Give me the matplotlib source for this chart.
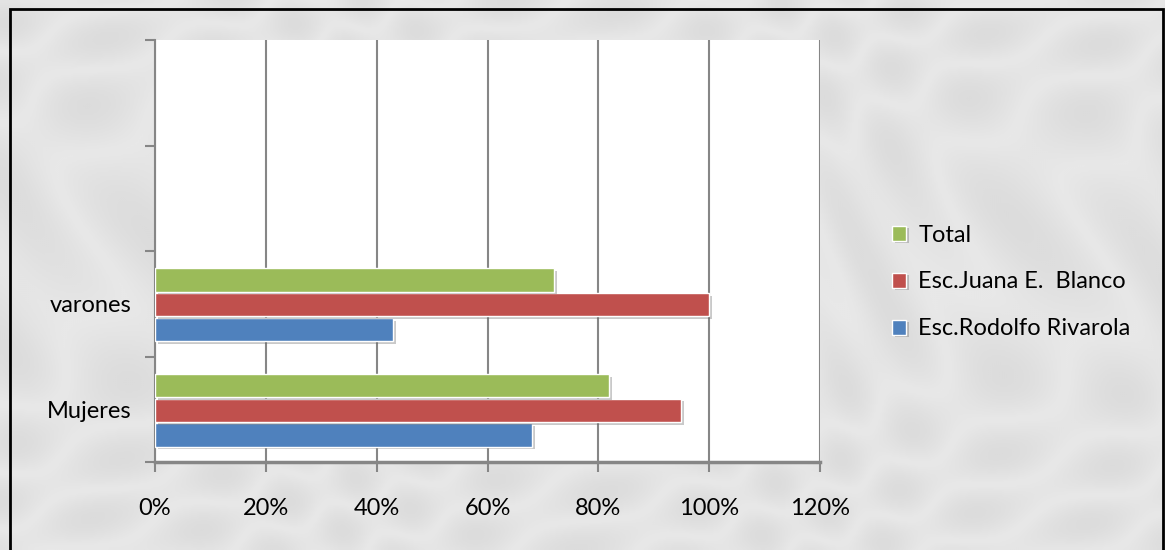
import numpy as np
import matplotlib
matplotlib.use("Agg")
import matplotlib.pyplot as plt
import matplotlib.patheffects as pe
from matplotlib.patches import Rectangle

# data (fractions)
categories = ["Mujeres", "varones", "", ""]
series_names = ["Esc.Rodolfo Rivarola", "Esc.Juana E.  Blanco", "Total"]
rivarola = [0.68, 0.43]
blanco = [0.95, 1.00]
total = [0.82, 0.72]
xticks = [0, 0.2, 0.4, 0.6, 0.8, 1.0, 1.2]
xtick_labels = ["0%", "20%", "40%", "60%", "80%", "100%", "120%"]

colors = ["#4F81BD", "#C0504D", "#9BBB59"]

plt.rcParams['font.family'] = ['Lato', 'DejaVu Sans']
fs = 17

fig = plt.figure(figsize=(11.65, 5.5), dpi=100)
fig.patch.set_facecolor("#e3e4e6")

# soft marble-like backdrop
bg = fig.add_axes([0, 0, 1, 1], zorder=-5)
yy, xx = np.mgrid[0:275, 0:583]
veins = (np.sin(xx / 23.0 + yy / 17.0 + 3 * np.sin(yy / 41.0))
         + 0.6 * np.sin(xx / 9.0 - yy / 13.0 + 2 * np.cos(xx / 37.0)))
img = 0.91 - 0.03 * np.abs(veins)
bg.imshow(img, cmap="gray", vmin=0, vmax=1, aspect="auto", interpolation="bicubic")
bg.axis("off")

# outer black frame
fig.patches.append(Rectangle((10 / 1165, -0.01), 1153 / 1165, 1 - 9 / 550 + 0.01,
                             transform=fig.transFigure, fill=False,
                             edgecolor="black", linewidth=2, zorder=10))

ax = fig.add_axes([155 / 1165, 1 - 462 / 550, 665 / 1165, 422 / 550])
ax.set_facecolor("white")

h = 0.22
y = np.arange(len(rivarola)) + 0.49
shadow = [pe.SimplePatchShadow(offset=(2, -2), shadow_rgbFace="0.4", alpha=0.35), pe.Normal()]
for i, (vals, name) in enumerate(zip([rivarola, blanco, total], series_names)):
    ax.barh(y + (i - 1) * (h + 0.015), vals, height=h, color=colors[i],
            edgecolor="white", linewidth=1, label=name, zorder=3,
            path_effects=shadow)

ax.set_xlim(0, 1.2)
ax.set_ylim(0, 4)
ax.set_xticks(xticks)
ax.set_xticklabels(xtick_labels, fontsize=fs)
ax.set_yticks([0, 1, 2, 3, 4])
ax.set_yticklabels([])
ax.set_yticks(np.arange(4) + 0.5, minor=True)
ax.set_yticklabels(categories, minor=True, fontsize=fs)
ax.tick_params(axis="y", which="minor", length=0, pad=17)
ax.tick_params(axis="y", which="major", length=7, color="#868686", width=1.5)
ax.tick_params(axis="x", length=7, color="#868686", width=1.5, pad=19)
ax.grid(axis="x", color="#868686", linewidth=1.5, zorder=0)

for side in ["top", "right"]:
    ax.spines[side].set_visible(False)
ax.spines["left"].set_color("#868686")
ax.spines["left"].set_linewidth(1.5)
ax.spines["bottom"].set_color("#868686")
ax.spines["bottom"].set_linewidth(2.5)

handles, labels = ax.get_legend_handles_labels()
leg = fig.legend(handles[::-1], labels[::-1], loc="center left",
                 bbox_to_anchor=(871 / 1165, 1 - 282 / 550), frameon=False,
                 fontsize=fs, handlelength=0.6, handleheight=0.6,
                 handletextpad=0.5, labelspacing=1.1)

fig.savefig("out.png", dpi=100)
